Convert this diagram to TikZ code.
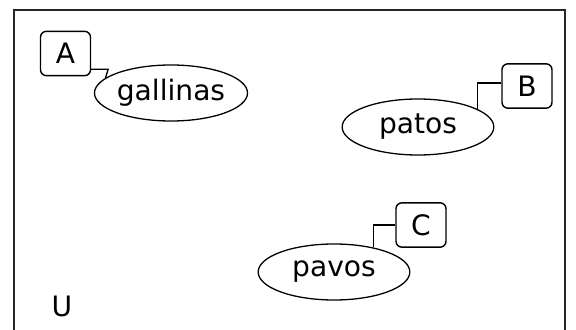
\documentclass[tikz,border=0pt]{standalone}
\usepackage{fontspec}
\setmainfont{DejaVu Sans}
\usetikzlibrary{shapes.geometric}
\begin{document}
\begin{tikzpicture}[x=0.03cm, y=0.03cm, font=\fontsize{24}{28}\selectfont,
  set/.style={draw=black, ellipse, line width=1.1pt, inner sep=0pt,
    minimum width=4.55cm, minimum height=1.68cm},
  tag/.style={draw=black, rounded corners=5pt, line width=1.2pt, inner sep=0pt,
    minimum width=1.5cm, minimum height=1.33cm},
  link/.style={line width=1.1pt},
]
\useasboundingbox (0,0) rectangle (576,330);

% ---------------------------------------------------------------- universe
\draw[line width=1.5pt, black!85] (14,0) -- (14,320) -- (565,320) -- (565,0);
\node (universe) at (62,24) {U};

% ---------------------------------------------------------------- sets
\node[set] (gallinas) at (171,237) {gallinas};
\node[set] (patos) at (418,203) {patos\hspace{0.45cm}};
\node[set] (pavos) at (334,58) {pavos\hspace{0.65cm}};

% ---------------------------------------------------------------- tags
\node[tag] (tagA) at (65.5,276.5) {A};
\node[tag] (tagB) at (527,244) {B};
\node[tag] (tagC) at (421,105) {C};

\draw[link] ([yshift=-0.47cm]tagA.east) -- ++(17,0) -- (gallinas.167);
\draw[link] ([yshift=0.09cm]tagB.west) -| (patos.17.5);
\draw[link] (tagC.west) -| (pavos.32);
\end{tikzpicture}
\end{document}
